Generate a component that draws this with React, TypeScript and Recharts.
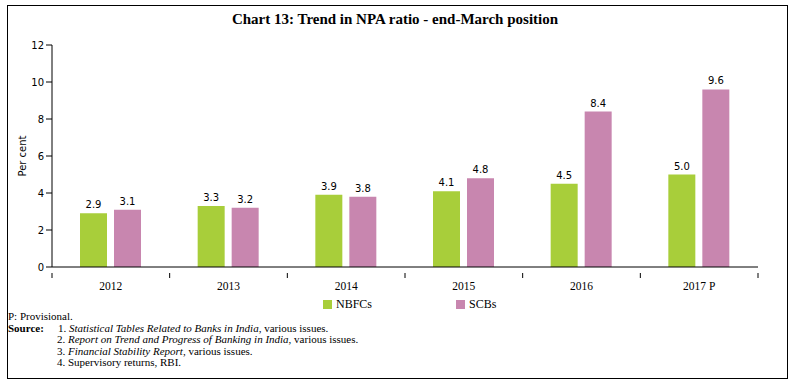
import React from "react";
import { BarChart, Bar, XAxis, YAxis, LabelList } from "recharts";

const categories = ["2012", "2013", "2014", "2015", "2016", "2017 P"];
const nbfcValues = [2.9, 3.3, 3.9, 4.1, 4.5, 5.0];
const scbValues = [3.1, 3.2, 3.8, 4.8, 8.4, 9.6];
const yTicks = [0, 2, 4, 6, 8, 10, 12];
const seriesNames = ["NBFCs", "SCBs"];

const data = categories.map((c, i) => ({ year: c, nbfc: nbfcValues[i], scb: scbValues[i] }));

const GREEN = "#A8CE3A";
const PINK = "#C886AF";
const SERIF = "'Liberation Serif', 'DejaVu Serif', serif";
const SANS = "'DejaVu Sans', Verdana, sans-serif";

const XTick = (props: any) => {
  const { x, y, payload, index, visibleTicksCount } = props;
  const off = payload && payload.offset ? payload.offset : 58.8;
  const axisY = y - 9;
  const isLast = index === (visibleTicksCount ?? categories.length) - 1;
  return (
    <g>
      <line x1={x - off} x2={x - off} y1={axisY} y2={axisY + 5} stroke="#000" strokeWidth={1} />
      {isLast && <line x1={x + off} x2={x + off} y1={axisY} y2={axisY + 5} stroke="#000" strokeWidth={1} />}
      <text x={x} y={y} dy="0.71em" textAnchor="middle" fontFamily={SERIF} fontSize={11.5} fill="#000">
        {payload.value}
      </text>
    </g>
  );
};

export default function App() {
  const colors = [GREEN, PINK];
  return (
    <div style={{ position: "absolute", left: 0, top: 0, width: 790, height: 384, background: "#fff" }}>
      <div
        style={{
          position: "absolute",
          left: 7,
          top: 5,
          width: 779,
          height: 372,
          border: "1px solid #000",
        }}
      />
      <div
        style={{
          position: "absolute",
          left: 0,
          top: 11,
          width: 790,
          textAlign: "center",
          fontFamily: SERIF,
          fontWeight: "bold",
          fontSize: 15,
          color: "#000",
        }}
      >
        Chart 13: Trend in NPA ratio - end-March position
      </div>
      <div style={{ position: "absolute", left: 0, top: 0 }}>
        <BarChart
          width={790}
          height={384}
          data={data}
          margin={{ top: 45, right: 32, bottom: 87, left: 0 }}
          barCategoryGap={28}
          barGap={7}
        >
          <XAxis
            dataKey="year"
            tickLine={false}
            axisLine={{ stroke: "#000" }}
            tick={<XTick />}
            tickMargin={9}
            height={30}
            interval={0}
          />
          <YAxis
            domain={[0, 12]}
            ticks={yTicks}
            width={52}
            tickSize={6}
            tickMargin={2}
            axisLine={{ stroke: "#000" }}
            tickLine={{ stroke: "#000" }}
            tick={{ fontFamily: SANS, fontSize: 10, fill: "#000" }}
            label={{
              value: "Per cent",
              angle: -90,
              position: "insideLeft",
              offset: 22,
              style: { fontFamily: SANS, fontSize: 10, fill: "#000", textAnchor: "middle" },
            }}
          />
          <Bar dataKey="nbfc" name={seriesNames[0]} fill={GREEN} isAnimationActive={false}>
            <LabelList
              dataKey="nbfc"
              position="top"
              offset={5}
              formatter={(v: any) => Number(v).toFixed(1)}
              style={{ fontFamily: SANS, fontSize: 10, fill: "#000" }}
            />
          </Bar>
          <Bar dataKey="scb" name={seriesNames[1]} fill={PINK} isAnimationActive={false}>
            <LabelList
              dataKey="scb"
              position="top"
              offset={5}
              formatter={(v: any) => Number(v).toFixed(1)}
              style={{ fontFamily: SANS, fontSize: 10, fill: "#000" }}
            />
          </Bar>
        </BarChart>
      </div>
      {seriesNames.map((name, i) => (
        <div
          key={name}
          style={{
            position: "absolute",
            left: 323 + i * 133,
            top: 297,
            display: "flex",
            alignItems: "center",
            fontFamily: SERIF,
            fontSize: 12,
            color: "#000",
          }}
        >
          <span style={{ display: "inline-block", width: 9, height: 9, background: colors[i], marginRight: 4 }} />
          <span>{name}</span>
        </div>
      ))}
      <div
        style={{
          position: "absolute",
          left: 8,
          top: 311,
          fontFamily: SERIF,
          fontSize: 11,
          lineHeight: "11.6px",
          color: "#000",
        }}
      >
        <div>P: Provisional.</div>
        <div style={{ display: "flex" }}>
          <span style={{ width: 50, fontWeight: "bold" }}>Source:</span>
          <span>
            1. <i>Statistical Tables Related to Banks in India</i>, various issues.
          </span>
        </div>
        <div style={{ paddingLeft: 49 }}>
          2. <i>Report on Trend and Progress of Banking in India</i>, various issues.
        </div>
        <div style={{ paddingLeft: 49 }}>
          3. <i>Financial Stability Report</i>, various issues.
        </div>
        <div style={{ paddingLeft: 49 }}>4. Supervisory returns, RBI.</div>
      </div>
    </div>
  );
}
